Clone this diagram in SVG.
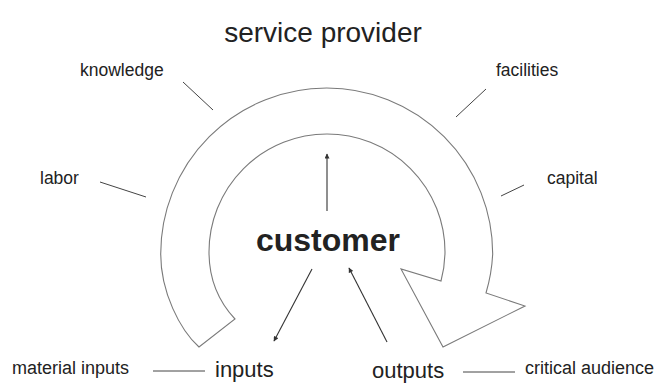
<svg xmlns="http://www.w3.org/2000/svg" width="658" height="383" viewBox="0 0 658 383">
  <style>
    text { font-family: "Liberation Sans", Arial, sans-serif; fill: #222; }
    .band { fill: none; stroke: #7a7a7a; stroke-width: 1.1; stroke-linejoin: miter; }
    .tick { stroke: #444; stroke-width: 1; fill: none; }
    .flow { stroke: #333; stroke-width: 1.1; fill: none; marker-end: url(#tip); }
  </style>
  <defs>
    <marker id="tip" viewBox="0 0 10 10" refX="9" refY="5" markerWidth="6" markerHeight="5" markerUnits="userSpaceOnUse" orient="auto">
      <path d="M0,0 L10,5 L0,10 z" fill="#333"/>
    </marker>
  </defs>

  <rect width="658" height="383" fill="#fff"/>

  <!-- circular service band with arrowhead -->
  <g id="service-cycle">
    <path class="band" d="M199,347 C180,330 160.7,292 160.7,254 A166,166 0 0 1 492.7,254 A166,166 0 0 1 486,293 L525,306 L443,347 L401,269 L441,281 A118,118 0 0 0 445,252 A118,118 0 0 0 209,252 C209,280 220,303 235,319 Z"/>
  </g>

  <g id="service-provider"><text x="323" y="42" font-size="28" text-anchor="middle">service provider</text></g>
  <g id="knowledge"><text x="80" y="76" font-size="17.5">knowledge</text></g>
  <g id="facilities"><text x="496" y="76" font-size="17.5">facilities</text></g>
  <g id="labor"><text x="40" y="184" font-size="17.5">labor</text></g>
  <g id="capital"><text x="547" y="184" font-size="17.5">capital</text></g>
  <g id="customer"><text x="328" y="251" font-size="32" font-weight="bold" text-anchor="middle">customer</text></g>
  <g id="material-inputs"><text x="12" y="374" font-size="18">material inputs</text></g>
  <g id="inputs"><text x="215" y="377" font-size="22">inputs</text></g>
  <g id="outputs"><text x="372" y="378" font-size="22">outputs</text></g>
  <g id="critical-audience"><text x="525" y="374" font-size="18">critical audience</text></g>

  <g id="connectors">
    <line class="tick" x1="183" y1="82" x2="213" y2="110"/>
    <line class="tick" x1="486" y1="89" x2="456" y2="117"/>
    <line class="tick" x1="100" y1="182" x2="146" y2="197"/>
    <line class="tick" x1="501" y1="196" x2="524" y2="185"/>
    <line class="tick" x1="153" y1="371" x2="205" y2="371"/>
    <line class="tick" x1="463" y1="372" x2="515" y2="372"/>
    <line class="flow" x1="327" y1="211" x2="327" y2="154"/>
    <line class="flow" x1="312" y1="269" x2="274" y2="341"/>
    <line class="flow" x1="387" y1="342" x2="349" y2="268"/>
  </g>
</svg>
